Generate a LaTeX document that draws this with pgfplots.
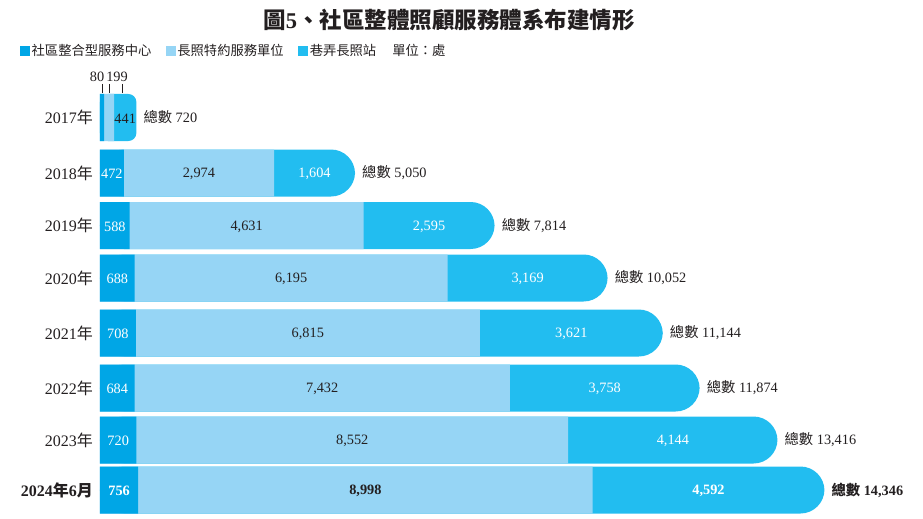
\documentclass[border=0pt]{standalone}
\usepackage{fontspec}
\setmainfont{Liberation Serif}
\newfontfamily\cjk{Noto Sans CJK TC}
\usepackage{pgfplots}
\usepackage{pgfplotstable}
\pgfplotsset{compat=1.18}

\definecolor{cA}{HTML}{00A6E6}
\definecolor{cB}{HTML}{96D5F5}
\definecolor{cC}{HTML}{22BDF0}
\definecolor{ink}{HTML}{231F20}

% y = row centre (px from top), a = 社區整合型服務中心, b = 長照特約服務單位, c = 巷弄長照站
\pgfplotstableread{
y     a    b     c
117.5 80   199   441
173   472  2974  1604
225.5 588  4631  2595
278   688  6195  3169
333   708  6815  3621
388   684  7432  3758
440   720  8552  4144
490   756  8998  4592
}\data
\pgfplotstablecreatecol[create col/expr={\thisrow{a}+\thisrow{b}}]{ab}\data
\pgfplotstablecreatecol[create col/expr={\thisrow{a}+\thisrow{b}+\thisrow{c}}]{t}\data
\pgfplotstablecreatecol[create col/expr={\thisrow{a}/2}]{m1}\data
\pgfplotstablecreatecol[create col/expr={\thisrow{a}+\thisrow{b}/2}]{m2}\data
\pgfplotstablecreatecol[create col/expr={\thisrow{a}+\thisrow{b}+\thisrow{c}/2}]{m3}\data

\pgfplotsset{
  seg/.style={xbar, bar width=47pt, bar shift=0pt, draw=none, forget plot},
  % rows 2018-2023 normal, 2024 bold
  rows/.style={restrict y to domain=150:460},
  last/.style={restrict y to domain=480:500},
  lbl/.style={draw=none, mark=none, forget plot, point meta=explicit,
    nodes near coords={\pgfmathprintnumber{\pgfplotspointmeta}},
    every node near coord/.append style={anchor=center, inner sep=0pt, yshift=-1pt,
      font=\fontsize{14.3}{14}\selectfont}},
  tot/.style={draw=none, mark=none, forget plot, point meta=explicit,
    nodes near coords={{\cjk 總數} \pgfmathprintnumber{\pgfplotspointmeta}},
    every node near coord/.append style={anchor=west, inner sep=0pt, xshift=7pt,
      text=ink, font=\fontsize{14.3}{14}\selectfont}},
  bf/.style={every node near coord/.append style={font=\fontsize{14.3}{14}\selectfont\bfseries}},
}

\begin{document}
\begin{tikzpicture}
\begin{axis}[
    at={(0pt,0pt)}, anchor=south west,
    scale only axis, width=800pt, height=452.2pt,
    xmin=0, xmax=15842,
    ymin=64.3, ymax=516.5, y dir=reverse,
    axis line style={draw=none},
    tick style={draw=none},
    xtick=\empty,
    ytick={117.5,173,225.5,278,333,388,440,490},
    yticklabels={2017{\cjk 年},2018{\cjk 年},2019{\cjk 年},2020{\cjk 年},
      2021{\cjk 年},2022{\cjk 年},2023{\cjk 年},{\bfseries 2024{\cjk 年}6{\cjk 月}}},
    yticklabel style={font=\fontsize{16}{16}\selectfont, text=ink, inner sep=0pt, xshift=-7pt},
    clip=false,
    /pgf/number format/.cd, fixed, precision=0, 1000 sep={,}, assume math mode=true,
    /pgfplots/.cd,
    legend image code/.code={\fill[#1, draw=none] (0pt,-5pt) rectangle (10pt,5pt);},
    legend style={at={(-0.1,1.0294)}, anchor=west, draw=none, fill=none,
      inner sep=0pt, legend columns=-1,
      font=\fontsize{13.3}{13}\selectfont\cjk,
      nodes={inner xsep=1.5pt, inner ysep=0pt, text=ink},
      /tikz/every even column/.append style={column sep=13pt}},
]

% full bars (third segment colour, rounded right end)
\addplot[seg, fill=cC, rounded corners=24pt, restrict y to domain=150:600]
    table[x=t, y=y] {\data};
\addplot[seg, fill=cC, rounded corners=8pt, restrict y to domain=100:130]
    table[x=t, y=y] {\data};
% first + second segment
\addplot[seg, fill=cB] table[x=ab, y=y] {\data};
% first segment
\addplot[seg, fill=cA] table[x=a, y=y] {\data};

% values inside the segments (2017 is labelled by hand below)
\addplot[lbl, rows, every node near coord/.append style={text=white}]
    table[x=m1, y=y, meta=a] {\data};
\addplot[lbl, rows, every node near coord/.append style={text=ink}]
    table[x=m2, y=y, meta=b] {\data};
\addplot[lbl, rows, every node near coord/.append style={text=white}]
    table[x=m3, y=y, meta=c] {\data};
\addplot[lbl, last, bf, every node near coord/.append style={text=white}]
    table[x=m1, y=y, meta=a] {\data};
\addplot[lbl, last, bf, every node near coord/.append style={text=ink}]
    table[x=m2, y=y, meta=b] {\data};
\addplot[lbl, last, bf, every node near coord/.append style={text=white}]
    table[x=m3, y=y, meta=c] {\data};

% totals
\addplot[tot, restrict y to domain=100:460] table[x=t, y=y, meta=t] {\data};
\addplot[tot, last, bf] table[x=t, y=y, meta=t] {\data};

% 2017 small segments
\draw[ink, line width=0.6pt] (axis cs:53,84) -- (axis cs:53,93.5);
\draw[ink, line width=0.6pt] (axis cs:184,84) -- (axis cs:184,93.5);
\draw[ink, line width=0.6pt] (axis cs:441,84) -- (axis cs:441,93.5);
\node[ink, inner sep=0pt, font=\fontsize{14.3}{14}\selectfont] at (axis cs:-59,77) {80};
\node[ink, inner sep=0pt, font=\fontsize{14.3}{14}\selectfont] at (axis cs:337,77) {199};
\node[ink, inner sep=0pt, font=\fontsize{14.3}{14}\selectfont] at (axis cs:499.5,118.5) {441};

\addlegendimage{fill=cA}
\addlegendentry{社區整合型服務中心}
\addlegendimage{fill=cB}
\addlegendentry{長照特約服務單位}
\addlegendimage{fill=cC}
\addlegendentry{巷弄長照站}
\addlegendimage{empty legend}
\addlegendentry{單位：處}
\end{axis}

\node[ink, font=\fontsize{22.5}{22}\selectfont\bfseries] at (349pt,496.5pt)
    {{\cjk 圖}5{\cjk 、社區整體照顧服務體系布建情形}};
\path (-100pt,-2.5pt) rectangle (823pt,516.5pt);
\end{tikzpicture}
\end{document}
